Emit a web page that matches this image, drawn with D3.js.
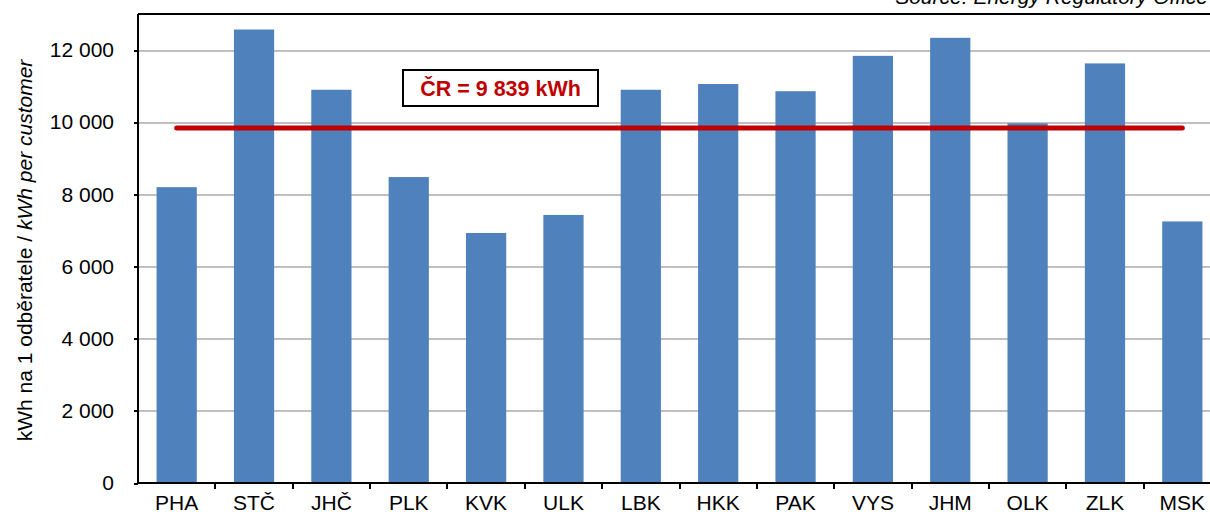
<!DOCTYPE html>
<meta charset="utf-8">
<style>
body {
  margin: 0;
  background-color: #fff;
  overflow: hidden;
}
text {
  font-family: 'Liberation Sans', Arial, sans-serif;
  fill: #000;
}
.grid line {
  stroke: #BFBFBF;
  stroke-width: 2px;
  shape-rendering: crispEdges;
}
.grid path {
  display: none;
}
.axis path,
.axis line {
  fill: none;
  stroke: #000;
  stroke-width: 2px;
  shape-rendering: crispEdges;
}
.bar {
  fill: #4F81BD;
}
</style>
<svg width="1210" height="515"></svg>
<script src="https://d3js.org/d3.v7.min.js"></script>
<script>
var regions = ["PHA", "STČ", "JHČ", "PLK", "KVK", "ULK", "LBK", "HKK", "PAK", "VYS", "JHM", "OLK", "ZLK", "MSK"];
var consumption = [8200, 12570, 10900, 8480, 6930, 7430, 10900, 11060, 10860, 11840, 12340, 9970, 11630, 7250];
var yTicks = [0, 2000, 4000, 6000, 8000, 10000, 12000];
var average = 9839;
var averageLabel = "ČR = 9 839 kWh";
var yLabel = "kWh na 1 odběratele / ";
var yLabelEn = "kWh per customer";
var source = "Source: Energy Regulatory Office";

var svg = d3.select("svg"),
    margin = {top: 14, right: -11, bottom: 32, left: 138},
    width = +svg.attr("width") - margin.left - margin.right,
    height = +svg.attr("height") - margin.top - margin.bottom;

var x = d3.scaleBand().domain(regions).range([0, width]).paddingInner(0.48).paddingOuter(0.24);
var y = d3.scaleLinear().domain([0, 13000]).range([height, 0]);

var fmt = function(d) { return d3.format(",")(d).replace(/,/g, " "); };

var g = svg.append("g")
    .attr("transform", "translate(" + margin.left + "," + margin.top + ")");

// gridlines
g.append("g")
    .attr("class", "grid")
    .call(d3.axisLeft(y).tickValues(yTicks.slice(1)).tickSize(-width).tickFormat(""));

// top border
g.append("line")
    .attr("x1", 0).attr("x2", width)
    .attr("y1", 0).attr("y2", 0)
    .attr("stroke", "#000").attr("stroke-width", 2);

g.selectAll(".bar")
    .data(consumption)
  .enter().append("rect")
    .attr("class", "bar")
    .attr("x", function(d, i) { return x(regions[i]); })
    .attr("width", x.bandwidth())
    .attr("y", function(d) { return y(d); })
    .attr("height", function(d) { return height - y(d); });

// average line from first to last band centre
g.append("line")
    .attr("x1", x(regions[0]) + x.bandwidth() / 2)
    .attr("x2", x(regions[regions.length - 1]) + x.bandwidth() / 2)
    .attr("y1", y(average))
    .attr("y2", y(average))
    .attr("stroke", "#C00000")
    .attr("stroke-width", 5)
    .attr("stroke-linecap", "round");

// x axis: ticks between bands
var xAxis = g.append("g")
    .attr("class", "axis")
    .attr("transform", "translate(0," + height + ")");
xAxis.append("line").attr("x1", 0).attr("x2", width);
xAxis.selectAll(".sep")
    .data(regions.slice(1))
  .enter().append("line")
    .attr("x1", function(d) { return x(d) - x.step() * x.paddingInner() / 2; })
    .attr("x2", function(d) { return x(d) - x.step() * x.paddingInner() / 2; })
    .attr("y1", 0).attr("y2", 6);
xAxis.selectAll(".lbl")
    .data(regions)
  .enter().append("text")
    .attr("x", function(d) { return x(d) + x.bandwidth() / 2; })
    .attr("y", 27)
    .attr("text-anchor", "middle")
    .style("font-size", "21px")
    .text(function(d) { return d; });

// y axis
var yAxis = g.append("g")
    .attr("class", "axis")
    .call(d3.axisLeft(y).tickValues(yTicks).tickSize(4).tickPadding(20).tickFormat(fmt));
yAxis.selectAll("text").style("font-size", "21px").style("font-family", "'Liberation Sans', Arial, sans-serif");
yAxis.select(".domain").attr("d", "M0," + height + "V0");

// y label
var yl = svg.append("text")
    .attr("transform", "translate(32," + (margin.top + height / 2 + 2) + ") rotate(-90)")
    .attr("text-anchor", "middle")
    .style("font-size", "21px");
yl.append("tspan").text(yLabel);
yl.append("tspan").style("font-style", "italic").text(yLabelEn);

// annotation box
var box = g.append("g").attr("transform", "translate(" + (403 - margin.left) + "," + (70 - margin.top) + ")");
box.append("rect")
    .attr("width", 195).attr("height", 36)
    .attr("fill", "#fff").attr("stroke", "#000").attr("stroke-width", 2);
box.append("text")
    .attr("x", 97.5).attr("y", 26)
    .attr("text-anchor", "middle")
    .style("font-size", "21.5px").style("font-weight", "bold")
    .style("fill", "#C00000")
    .text(averageLabel);

// source (cut off at the top edge, as in the original)
svg.append("text")
    .attr("x", 1208).attr("y", 4)
    .attr("text-anchor", "end")
    .style("font-size", "21px").style("font-style", "italic")
    .text(source);
</script>
